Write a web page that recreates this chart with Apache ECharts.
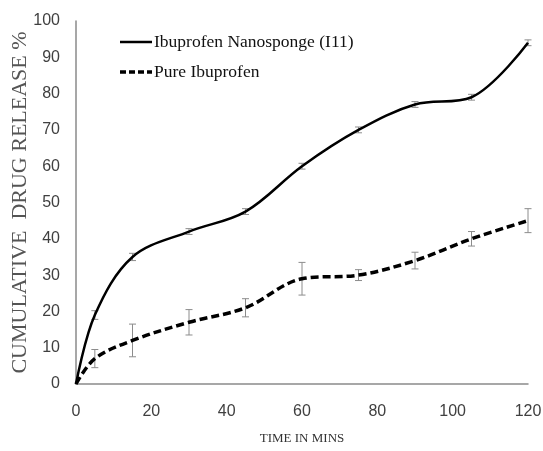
<!DOCTYPE html>
<html><head><meta charset="utf-8">
<script src="https://cdn.jsdelivr.net/npm/echarts@6/dist/echarts.min.js"></script>
<style>html,body{margin:0;padding:0;background:#fff}#c{width:543px;height:451px}</style>
</head><body><div id="c"></div>
<script>
const times = [0, 5, 15, 30, 45, 60, 75, 90, 105, 120];
const nanoValues = [0, 19, 35, 42, 47.5, 60, 70, 77, 79, 94];
const nanoErr = [0, 1.2, 1, 0.8, 0.8, 0.8, 0.8, 0.8, 0.8, 0.8];
const pureValues = [0, 7, 12, 17, 21, 29, 30, 34, 40, 45];
const pureErr = [0, 2.5, 4.5, 3.5, 2.5, 4.5, 1.5, 2.3, 2, 3.3];
const xTicks = [0, 20, 40, 60, 80, 100, 120];
const yTicks = [0, 10, 20, 30, 40, 50, 60, 70, 80, 90, 100];
const seriesNames = ['Ibuprofen Nanosponge (I11)', 'Pure Ibuprofen'];

const nanoData = times.map((t, i) => [t, nanoValues[i]]);
const pureData = times.map((t, i) => [t, pureValues[i]]);
const errData = [];
times.forEach((t, i) => { if (i > 0) { errData.push([t, nanoValues[i], nanoErr[i]]); errData.push([t, pureValues[i], pureErr[i]]); } });

function renderErr(params, api) {
  const x = api.value(0), y = api.value(1), e = api.value(2);
  const lo = api.coord([x, y - e]), hi = api.coord([x, y + e]);
  const w = 3.5;
  const style = { stroke: '#8c8c8c', lineWidth: 1 };
  return { type: 'group', children: [
    { type: 'line', shape: { x1: lo[0], y1: lo[1], x2: hi[0], y2: hi[1] }, style },
    { type: 'line', shape: { x1: lo[0] - w, y1: lo[1], x2: lo[0] + w, y2: lo[1] }, style },
    { type: 'line', shape: { x1: hi[0] - w, y1: hi[1], x2: hi[0] + w, y2: hi[1] }, style }
  ]};
}

const legendText = { fontFamily: 'Liberation Serif', fontSize: 17.5, fill: '#111' };
const chart = echarts.init(document.getElementById('c'));
chart.setOption({
  animation: false,
  backgroundColor: '#fff',
  grid: { left: 76, right: 15, top: 21, bottom: 67, containLabel: false, outerBoundsMode: 'none' },
  graphic: [
    { type: 'line', shape: { x1: 120, y1: 42, x2: 152, y2: 42 }, style: { stroke: '#000', lineWidth: 2.5 } },
    { type: 'text', x: 154, y: 42, style: Object.assign({ text: seriesNames[0], verticalAlign: 'middle' }, legendText) },
    { type: 'line', shape: { x1: 120, y1: 72, x2: 152, y2: 72 }, style: { stroke: '#000', lineWidth: 3.5, lineDash: [6, 3] } },
    { type: 'text', x: 154, y: 72, style: Object.assign({ text: seriesNames[1], verticalAlign: 'middle' }, legendText) }
  ],
  xAxis: {
    type: 'value', min: 0, max: 120, interval: 20,
    name: 'TIME IN MINS', nameLocation: 'middle', nameGap: 48, nameMoveOverlap: false,
    nameTextStyle: { fontFamily: 'Liberation Serif', fontSize: 13, color: '#333' },
    axisLine: { lineStyle: { color: '#8a8a8a', width: 1.5 } },
    axisTick: { show: false }, splitLine: { show: false },
    axisLabel: { margin: 20, fontFamily: 'Liberation Sans', fontSize: 16, color: '#404040' }
  },
  yAxis: {
    type: 'value', min: 0, max: 100, interval: 10,
    name: 'CUMULATIVE  DRUG RELEASE %', nameLocation: 'middle', nameGap: 45, nameRotate: 90, nameMoveOverlap: false,
    nameTextStyle: { fontFamily: 'Liberation Serif', fontSize: 22, color: '#555' },
    axisLine: { show: true, lineStyle: { color: '#8a8a8a', width: 1.5 } },
    axisTick: { show: false }, splitLine: { show: false },
    axisLabel: { margin: 16, fontFamily: 'Liberation Sans', fontSize: 16, color: '#404040' }
  },
  series: [
    { name: seriesNames[0], type: 'line', data: nanoData, smooth: 0.35, symbol: 'none',
      lineStyle: { color: '#000', width: 2.5 }, z: 3 },
    { name: seriesNames[1], type: 'line', data: pureData, smooth: 0.35, symbol: 'none',
      lineStyle: { color: '#000', width: 3.5, type: [8, 4] }, z: 3 },
    { type: 'custom', renderItem: renderErr, data: errData, z: 2, encode: { x: 0, y: 1 } }
  ]
});
</script></body></html>
